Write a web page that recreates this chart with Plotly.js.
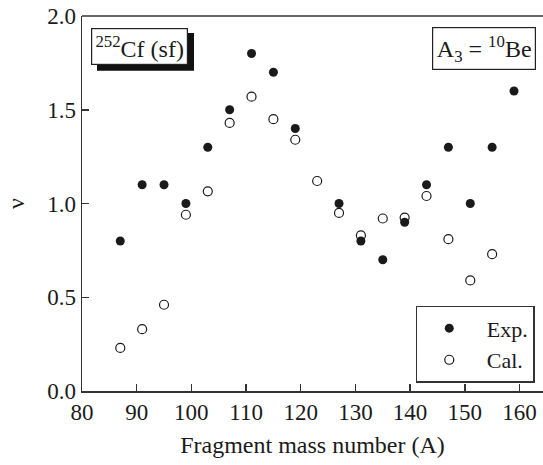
<!DOCTYPE html>
<html>
<head>
<meta charset="utf-8">
<script src="https://cdn.plot.ly/plotly-3.0.1.min.js"></script>
<style>html,body{margin:0;padding:0;background:#fff;}#chart{width:543px;height:465px;}</style>
</head>
<body>
<div id="chart"></div>
<script>
var expMass = [87, 91, 95, 99, 103, 107, 111, 115, 119, 127, 131, 135, 139, 143, 147, 151, 155, 159];
var expNu   = [0.80, 1.10, 1.10, 1.00, 1.30, 1.50, 1.80, 1.70, 1.40, 1.00, 0.80, 0.70, 0.90, 1.10, 1.30, 1.00, 1.30, 1.60];
var calMass = [87, 91, 95, 99, 103, 107, 111, 115, 119, 123, 127, 131, 135, 139, 143, 147, 151, 155];
var calNu   = [0.23, 0.33, 0.46, 0.94, 1.065, 1.43, 1.57, 1.45, 1.34, 1.12, 0.95, 0.83, 0.92, 0.925, 1.04, 0.81, 0.59, 0.73];
var xTicks = [80, 90, 100, 110, 120, 130, 140, 150, 160];
var yTicks = [0.0, 0.5, 1.0, 1.5, 2.0];

var FONT = "Liberation Serif, Times New Roman, serif";
var INK = "#1a1a1a";
var PAD = "\u00a0";

var traces = [
  {x: expMass, y: expNu, name: PAD + "Exp.", type: "scatter", mode: "markers",
   marker: {symbol: "circle", size: 9, color: INK}},
  {x: calMass, y: calNu, name: PAD + "Cal.", type: "scatter", mode: "markers",
   marker: {symbol: "circle-open", size: 9, color: INK, line: {width: 1.2, color: INK}}}
];

var layout = {
  width: 543, height: 465,
  margin: {l: 82, r: 0, t: 16, b: 74, pad: 0, autoexpand: false},
  paper_bgcolor: "#fff", plot_bgcolor: "#fff",
  font: {family: FONT, size: 23, color: INK},
  showlegend: true,
  legend: {x: 0.724, y: 0.227, xanchor: "left", yanchor: "top",
           bordercolor: "#333", borderwidth: 1.5, bgcolor: "#fff",
           font: {family: FONT, size: 22, color: INK}, itemwidth: 54},
  xaxis: {range: [80, 164.3], tickvals: xTicks, ticktext: xTicks.map(String),
          automargin: false,
          ticks: "inside", ticklen: 7, tickwidth: 1.5, tickcolor: "#333",
          showline: true, linecolor: "#333", linewidth: 1.5, mirror: false,
          showgrid: false, zeroline: false,
          tickfont: {family: FONT, size: 23, color: INK},
          title: {text: "Fragment mass number (A)", font: {family: FONT, size: 24, color: INK}, standoff: 12}},
  yaxis: {range: [0, 2], tickvals: yTicks, ticktext: yTicks.map(function(v){return v.toFixed(1);}),
          automargin: false,
          ticks: "inside", ticklen: 7, tickwidth: 1.5, tickcolor: "#333",
          showline: true, linecolor: "#333", linewidth: 1.5,
          showgrid: false, zeroline: false,
          tickfont: {family: FONT, size: 23, color: INK},
          title: {text: "ν", font: {family: FONT, size: 24, color: INK}, standoff: 16}},
  shapes: [
    {type: "line", xref: "paper", yref: "paper", x0: 0, x1: 1, y0: 1, y1: 1,
     line: {color: "#333", width: 1.5}},
    {type: "rect", xref: "paper", yref: "paper",
     x0: (97 - 82) / 461, x1: (194 - 82) / 461, y0: (391 - 70.7) / 375, y1: (391 - 33) / 375,
     fillcolor: "#111", line: {width: 0}}
  ],
  annotations: [
    {xref: "paper", yref: "paper", x: (139.2 - 82) / 461, y: (391 - 46.4) / 375,
     xanchor: "center", yanchor: "middle", showarrow: false,
     text: "<sup>252</sup>Cf (sf)", font: {family: FONT, size: 24, color: INK},
     bgcolor: "#fff", bordercolor: "#222", borderwidth: 1.2, borderpad: 0,
     width: 95, height: 35},
    {xref: "paper", yref: "paper", x: (484.3 - 82) / 461, y: (391 - 48.8) / 375,
     xanchor: "center", yanchor: "middle", showarrow: false,
     text: "A<sub>3</sub> = <sup>10</sup>Be", font: {family: FONT, size: 24, color: INK},
     bgcolor: "#fff", bordercolor: "#222", borderwidth: 1.2, borderpad: 0,
     width: 102, height: 41}
  ]
};

Plotly.newPlot("chart", traces, layout, {displayModeBar: false, staticPlot: true});
</script>
</body>
</html>
